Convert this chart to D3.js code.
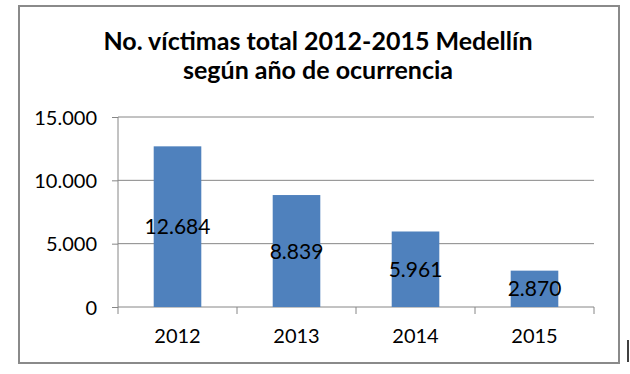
<!DOCTYPE html>
<html>
<head>
<meta charset="utf-8">
<script src="https://cdn.jsdelivr.net/npm/d3@7"></script>
<style>
  body { margin: 0; background: #fff; }
  text { font-family: Lato, "Open Sans", sans-serif; }
</style>
</head>
<body>
<div id="chart"></div>
<script>
// data
const years = ["2012", "2013", "2014", "2015"];
const victims = [12684, 8839, 5961, 2870];
const yTicks = [0, 5000, 10000, 15000];
const titleLines = ["No. víctimas total 2012-2015 Medellín", "según año de ocurrencia"];

const W = 630, H = 374;
const margin = {top: 117, right: 36, bottom: 67, left: 118};
const width = 594 - margin.left, height = 307 - margin.top;

const svg = d3.select("#chart").append("svg")
  .attr("width", W).attr("height", H);

// chart frame
svg.append("rect")
  .attr("x", 19).attr("y", 6)
  .attr("width", 600).attr("height", 357)
  .attr("fill", "#fff")
  .attr("stroke", "#8a8a8a").attr("stroke-width", 2);

// title
svg.append("g").selectAll("text")
  .data(titleLines).enter().append("text")
  .attr("x", 318).attr("y", (d, i) => 50 + i * 29)
  .attr("text-anchor", "middle")
  .attr("font-size", 25).attr("font-weight", "bold")
  .attr("fill", "#000")
  .text(d => d);

const g = svg.append("g").attr("transform", `translate(${margin.left},${margin.top})`);

const x = d3.scaleBand().domain(years).range([0, width]).paddingInner(0.6).paddingOuter(0.3);
const y = d3.scaleLinear().domain([0, 15000]).range([height, 0]);
const fmt = v => d3.format(",")(v).replace(/,/g, ".");

// gridlines
g.append("g").selectAll("line")
  .data(yTicks.filter(d => d > 0)).enter().append("line")
  .attr("x1", 0).attr("x2", width)
  .attr("y1", d => y(d)).attr("y2", d => y(d))
  .attr("stroke", "#868686");

// y axis
const yAxis = g.append("g")
  .call(d3.axisLeft(y).tickValues(yTicks).tickSize(6).tickPadding(15).tickFormat(fmt));
yAxis.select(".domain").attr("stroke", "#868686").attr("d", `M0,0V${height}`);
yAxis.selectAll(".tick line").attr("stroke", "#868686");
yAxis.selectAll("text").attr("font-size", 20).attr("fill", "#000").attr("dy", "0.36em");

// x axis with ticks between categories
const xAxis = g.append("g").attr("transform", `translate(0,${height})`);
xAxis.append("line").attr("x1", 0).attr("x2", width).attr("stroke", "#868686");
xAxis.selectAll(".sep")
  .data(d3.range(years.length + 1)).enter().append("line")
  .attr("x1", i => i * x.step()).attr("x2", i => i * x.step())
  .attr("y1", 0).attr("y2", 7)
  .attr("stroke", "#868686");
xAxis.selectAll(".lbl")
  .data(years).enter().append("text")
  .attr("x", d => x(d) + x.bandwidth() / 2)
  .attr("y", 36)
  .attr("text-anchor", "middle")
  .attr("font-size", 20).attr("fill", "#000")
  .text(d => d);

// bars
g.selectAll(".bar")
  .data(victims).enter().append("rect")
  .attr("x", (d, i) => x(years[i]))
  .attr("y", d => y(d))
  .attr("width", x.bandwidth())
  .attr("height", d => height - y(d))
  .attr("fill", "#4f81bd");

// value labels, centred inside bars
g.selectAll(".val")
  .data(victims).enter().append("text")
  .attr("x", (d, i) => x(years[i]) + x.bandwidth() / 2)
  .attr("y", d => (y(d) + height) / 2)
  .attr("dy", "0.36em")
  .attr("text-anchor", "middle")
  .attr("font-size", 21).attr("fill", "#000")
  .text(fmt);

// stray cursor mark at the right edge
svg.append("line")
  .attr("x1", 628).attr("x2", 628).attr("y1", 340).attr("y2", 362)
  .attr("stroke", "#000").attr("stroke-width", 1.5);
</script>
</body>
</html>
